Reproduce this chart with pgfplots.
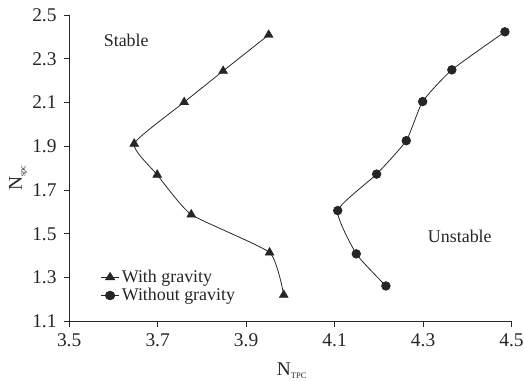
\documentclass[border=0pt]{standalone}
\usepackage{pgfplots}
\pgfplotsset{compat=1.18}
\usepackage{fontspec}
\setmainfont{Liberation Serif}

\definecolor{ink}{HTML}{262626}

\begin{document}
\fontsize{18}{21}\selectfont
\begin{tikzpicture}
\begin{axis}[
  scale only axis,
  width=444.5pt, height=307.4pt,
  xmin=3.5, xmax=4.5, ymin=1.1, ymax=2.5,
  xtick={3.5,3.7,...,4.5}, ytick={1.1,1.3,...,2.5},
  axis x line*=bottom, axis y line*=left,
  axis line style={ink, line width=0.9pt, -},
  tick align=outside, major tick length=5.5pt,
  tick style={ink, line width=0.9pt},
  /pgf/number format/assume math mode=true,
  /pgf/number format/.cd, fixed, fixed zerofill, precision=1, /pgfplots/.cd,
  ticklabel style={font=\fontsize{19.5}{22}\selectfont, text=ink},
  xticklabel style={yshift=-1pt},
  yticklabel style={xshift=-1pt},
  legend style={draw=none, fill=none, at={(0.07,0.052)}, anchor=south west,
    font=\fontsize{18}{21}\selectfont, text=ink, row sep=-1pt,
    inner sep=0pt},
  legend cell align=left,
  legend image post style={xscale=1.1},
  clip=false,
]
\addplot[ink, line width=0.8pt, smooth, tension=0.3,
  mark=triangle*, mark size=5.2pt, mark options={fill=ink, draw=ink, line width=0.4pt}]
  coordinates {
  (3.951,2.410) (3.848,2.245) (3.760,2.102) (3.647,1.912)
  (3.699,1.770) (3.776,1.588) (3.953,1.414) (3.985,1.220)
  };
\addlegendentry{With gravity}
\addplot[ink, line width=0.8pt, smooth, tension=0.3,
  mark=*, mark size=4.3pt, mark options={fill=ink, draw=ink}]
  coordinates {
  (4.485,2.424) (4.365,2.250) (4.299,2.105) (4.262,1.926)
  (4.195,1.773) (4.107,1.606) (4.149,1.408) (4.216,1.261)
  };
\addlegendentry{Without gravity}
\node[text=ink, font=\fontsize{18}{21}\selectfont] at (axis cs:3.629,2.383) {Stable};
\node[text=ink, font=\fontsize{18}{21}\selectfont] at (axis cs:4.383,1.490) {Unstable};
\end{axis}
% axis labels, placed relative to the lower-left corner of the plot box
\node[text=ink, anchor=base west, inner sep=0pt, font=\fontsize{19.5}{22}\selectfont]
  at (208.5pt,-54.3pt) {N\raisebox{-0.4ex}{\fontsize{8.5}{9}\selectfont TPC}};
\node[text=ink, anchor=base west, inner sep=0pt, rotate=90, font=\fontsize{19.5}{22}\selectfont]
  at (-47.5pt,130.7pt) {N\raisebox{-0.4ex}{\fontsize{8.5}{9}\selectfont spc}};
\pgfresetboundingbox
\path[use as bounding box] (-69.5pt,-59.3pt) rectangle (457pt,322.7pt);
\end{tikzpicture}
\end{document}
